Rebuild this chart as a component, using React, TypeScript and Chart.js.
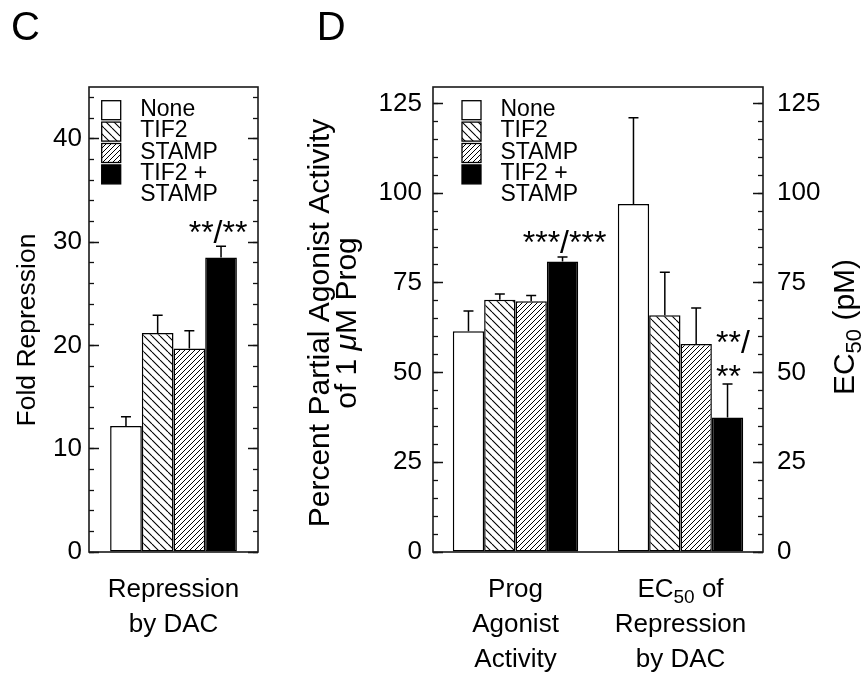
import React, { useEffect, useRef } from "react";
import { Chart, registerables } from "chart.js";

Chart.register(...registerables);

const FONT = "'Liberation Sans', Arial, Helvetica, sans-serif";

// ---------------- data ----------------
const seriesLabels = ["None", "TIF2", "STAMP", "TIF2 + STAMP"];
const legendLines = [["None"], ["TIF2"], ["STAMP"], ["TIF2 +", "STAMP"]];

// Panel C
const categoriesC = [["Repression", "by DAC"]];
const foldRepression = [12.2, 21.2, 19.7, 28.5];
const foldRepressionErr = [0.9, 1.7, 1.7, 1.1];
const ticksC = [0, 10, 20, 30, 40];
const sigC = ["**/**"];

// Panel D
const categoriesD = [
  ["Prog", "Agonist", "Activity"],
  ["EC_{50} of", "Repression", "by DAC"],
];
const progAgonist = [61.5, 70.3, 69.9, 81.0];
const progAgonistErr = [5.7, 1.6, 1.6, 1.2];
const ec50 = [97, 66, 58, 37.5];
const ec50Err = [24, 12, 10, 9.3];
const ticksD = [0, 25, 50, 75, 100, 125];
const sigDProg = ["***/***"];
const sigDEC50 = ["**/", "**"];

const titleC = ["Fold Repression"];
const titleDLeft = ["Percent Partial Agonist Activity", "of 1 ~{μ}M Prog"];
const titleDRight = ["EC_{50} (pM)"];

// ---------------- helpers ----------------
type Seg = { t: string; k: "n" | "s" | "i" };
function segs(text: string): Seg[] {
  const out: Seg[] = [];
  const re = /(_\{[^}]*\}|~\{[^}]*\})/g;
  let last = 0;
  let m: RegExpExecArray | null;
  while ((m = re.exec(text))) {
    if (m.index > last) out.push({ t: text.slice(last, m.index), k: "n" });
    out.push({ t: m[0].slice(2, -1), k: m[0][0] === "_" ? "s" : "i" });
    last = m.index + m[0].length;
  }
  if (last < text.length) out.push({ t: text.slice(last), k: "n" });
  return out;
}
function fontFor(k: string, size: number) {
  if (k === "s") return `${Math.round(size * 0.72)}px ${FONT}`;
  if (k === "i") return `italic ${size}px ${FONT}`;
  return `${size}px ${FONT}`;
}
function drawRich(ctx: CanvasRenderingContext2D, text: string, x: number, y: number, size: number, align: string) {
  const parts = segs(text);
  let w = 0;
  const ws = parts.map((p) => {
    ctx.font = fontFor(p.k, size);
    const mw = ctx.measureText(p.t).width;
    w += mw;
    return mw;
  });
  let cx = align === "center" ? x - w / 2 : align === "right" ? x - w : x;
  ctx.textAlign = "left";
  ctx.textBaseline = "middle";
  ctx.fillStyle = "#000";
  parts.forEach((p, i) => {
    ctx.font = fontFor(p.k, size);
    ctx.fillText(p.t, cx, p.k === "s" ? y + size * 0.3 : y);
    cx += ws[i];
  });
}

function hatch(ctx: CanvasRenderingContext2D, dir: "back" | "fwd", s: number, lw: number) {
  const c = document.createElement("canvas");
  c.width = s;
  c.height = s;
  const g = c.getContext("2d")!;
  g.fillStyle = "#fff";
  g.fillRect(0, 0, s, s);
  g.strokeStyle = "#000";
  g.lineWidth = lw;
  g.beginPath();
  for (const k of [-s, 0, s]) {
    if (dir === "back") {
      g.moveTo(k, 0);
      g.lineTo(k + s, s);
    } else {
      g.moveTo(k, s);
      g.lineTo(k + s, 0);
    }
  }
  g.stroke();
  return ctx.createPattern(c, "repeat")!;
}

type Annot = { series: number; cat: number; lines: string[]; align: string; dx: number; dy: number };
type Title = { lines: string[]; x: number; y: number; step: number; size: number };

type Panel = {
  letter: string;
  letterX: number;
  width: number;
  area: { left: number; right: number; top: number; bottom: number };
  yMax: number;
  majorTicks: number[];
  minor: number;
  rightLabels: boolean;
  rightWidth: number;
  leftTickPad: number;
  rightTickPad: number;
  catPct: number;
  legendDx: number;
  categories: string[][];
  groups: number[][];
  errGroups: number[][];
  annots: Annot[];
  titles: Title[];
};

const panelC: Panel = {
  letter: "C",
  letterX: 11,
  width: 300,
  area: { left: 89, right: 258, top: 87, bottom: 552 },
  yMax: 45,
  majorTicks: ticksC,
  minor: 2,
  rightLabels: false,
  rightWidth: 0,
  leftTickPad: 17,
  rightTickPad: 0,
  catPct: 0.75,
  legendDx: 12.7,
  categories: categoriesC,
  groups: [foldRepression],
  errGroups: [foldRepressionErr],
  annots: [{ series: 3, cat: 0, lines: sigC, align: "center", dx: -3, dy: -3.5 }],
  titles: [{ lines: titleC, x: 28, y: 330, step: 0, size: 26.5 }],
};

const panelD: Panel = {
  letter: "D",
  letterX: 16.7,
  width: 565,
  area: { left: 133, right: 463, top: 87, bottom: 552 },
  yMax: 129.6,
  majorTicks: ticksD,
  minor: 5,
  rightLabels: true,
  rightWidth: 60,
  leftTickPad: 21,
  rightTickPad: 24,
  catPct: 0.76,
  legendDx: 29,
  categories: categoriesD,
  groups: [progAgonist, ec50],
  errGroups: [progAgonistErr, ec50Err],
  annots: [
    { series: 3, cat: 0, lines: sigDProg, align: "center", dx: 2, dy: -4 },
    { series: 3, cat: 1, lines: sigDEC50, align: "left", dx: -11.5, dy: 3 },
  ],
  titles: [
    { lines: titleDLeft, x: 21, y: 323, step: 27, size: 30 },
    { lines: titleDRight, x: 546, y: 327, step: 0, size: 30 },
  ],
};

function buildPanel(canvas: HTMLCanvasElement, p: Panel) {
  const ctx = canvas.getContext("2d")!;
  const fills: any[] = ["#ffffff", hatch(ctx, "back", 8, 1.1), hatch(ctx, "fwd", 5, 1), "#000000"];
  const H = canvas.height;

  const datasets = seriesLabels.map((label, i) => ({
    label,
    data: p.groups.map((g) => g[i]),
    errors: p.errGroups.map((g) => g[i]),
    backgroundColor: fills[i],
    borderColor: "#000",
    borderWidth: 1.5,
    borderSkipped: false as any,
    categoryPercentage: p.catPct,
    barPercentage: 1,
  }));

  const minorValues: number[] = [];
  for (let v = 0; v <= p.yMax + 1e-9; v += p.minor) minorValues.push(v);

  const majorAxis = (position: "left" | "right", showLabels: boolean, pad: number, width: number) => ({
    type: "linear" as const,
    position,
    min: 0,
    max: p.yMax,
    weight: 1,
    ticks: {
      display: showLabels,
      padding: pad,
      color: "#000",
      font: { family: FONT, size: 26 },
    },
    afterBuildTicks: (s: any) => {
      s.ticks = p.majorTicks.map((v) => ({ value: v }));
    },
    grid: { display: true, drawOnChartArea: false, drawTicks: true, tickLength: -10, tickColor: "#111", tickWidth: 1.5 },
    border: { display: false },
    afterFit: (s: any) => {
      s.width = width;
    },
  });
  const minorAxis = (position: "left" | "right") => ({
    type: "linear" as const,
    position,
    min: 0,
    max: p.yMax,
    weight: 0,
    ticks: { display: false },
    afterBuildTicks: (s: any) => {
      s.ticks = minorValues.map((v) => ({ value: v }));
    },
    grid: { display: true, drawOnChartArea: false, drawTicks: true, tickLength: -5, tickColor: "#111", tickWidth: 1.3 },
    border: { display: false },
    afterFit: (s: any) => {
      s.width = 0;
    },
  });

  const deco = {
    id: "deco",
    afterDatasetsDraw(chart: any) {
      const c = chart.ctx as CanvasRenderingContext2D;
      const y = chart.scales.y;
      c.save();
      c.strokeStyle = "#000";
      c.lineWidth = 1.5;
      chart.data.datasets.forEach((ds: any, di: number) => {
        const meta = chart.getDatasetMeta(di);
        meta.data.forEach((bar: any, i: number) => {
          const v = ds.data[i];
          const e = ds.errors[i];
          const y0 = y.getPixelForValue(v);
          const y1 = y.getPixelForValue(v + e);
          c.beginPath();
          c.moveTo(bar.x, y0);
          c.lineTo(bar.x, y1);
          c.moveTo(bar.x - 5, y1);
          c.lineTo(bar.x + 5, y1);
          c.stroke();
        });
      });
      c.restore();
    },
    afterDraw(chart: any) {
      const c = chart.ctx as CanvasRenderingContext2D;
      const a = chart.chartArea;
      const x = chart.scales.x;
      const y = chart.scales.y;
      c.save();
      // frame
      c.strokeStyle = "#1a1a1a";
      c.lineWidth = 1.6;
      c.strokeRect(a.left, a.top, a.right - a.left, a.bottom - a.top);

      // legend
      const lx = a.left + p.legendDx;
      const ly0 = a.top + 13.7;
      legendLines.forEach((lines, i) => {
        const by = ly0 + i * 21.4;
        c.fillStyle = chart.data.datasets[i].backgroundColor;
        c.fillRect(lx, by, 19, 19);
        c.lineWidth = 1.3;
        c.strokeStyle = "#000";
        c.strokeRect(lx, by, 19, 19);
        lines.forEach((ln, j) => {
          c.fillStyle = "#000";
          c.font = `23px ${FONT}`;
          c.textAlign = "left";
          c.textBaseline = "middle";
          c.fillText(ln, lx + 38.5, by + 9 + j * 20.7);
        });
      });

      // category labels
      p.categories.forEach((lines, i) => {
        const cx = x.getPixelForTick(i);
        lines.forEach((ln, j) => drawRich(c, ln, cx, 590 + j * 35, 26, "center"));
      });

      // significance marks
      p.annots.forEach((an) => {
        const ds: any = chart.data.datasets[an.series];
        const bar = chart.getDatasetMeta(an.series).data[an.cat];
        const top = y.getPixelForValue(ds.data[an.cat] + ds.errors[an.cat]);
        const base = top + an.dy;
        c.fillStyle = "#000";
        c.font = `32px ${FONT}`;
        c.textAlign = an.align as CanvasTextAlign;
        c.textBaseline = "alphabetic";
        const n = an.lines.length;
        an.lines.forEach((ln, j) => {
          c.fillText(ln, bar.x + an.dx, base - (n - 1 - j) * 34);
        });
      });

      // axis titles (rotated)
      p.titles.forEach((t) => {
        t.lines.forEach((ln, j) => {
          c.save();
          c.translate(t.x + j * t.step, t.y);
          c.rotate(-Math.PI / 2);
          drawRich(c, ln, 0, 0, t.size, "center");
          c.restore();
        });
      });

      // panel letter
      c.fillStyle = "#000";
      c.font = `40px ${FONT}`;
      c.textAlign = "left";
      c.textBaseline = "middle";
      c.fillText(p.letter, p.letterX, 29);
      c.restore();
    },
  };

  return new Chart(ctx, {
    type: "bar",
    data: { labels: p.categories.map((l) => l.join(" ")), datasets: datasets as any },
    options: {
      animation: false,
      responsive: false,
      maintainAspectRatio: false,
      devicePixelRatio: 1,
      layout: { padding: { left: 0, right: p.width - p.area.right - p.rightWidth, top: p.area.top, bottom: 0 } },
      plugins: { legend: { display: false }, tooltip: { enabled: false } },
      scales: {
        x: {
          type: "category",
          position: "bottom",
          offset: true,
          grid: { display: false, drawTicks: false },
          border: { display: false },
          ticks: { display: false },
          afterFit: (s: any) => {
            s.height = H - p.area.bottom;
          },
        },
        y: majorAxis("left", true, p.leftTickPad, p.area.left) as any,
        yR: majorAxis("right", p.rightLabels, p.rightTickPad, p.rightWidth) as any,
        yMinL: minorAxis("left") as any,
        yMinR: minorAxis("right") as any,
      },
    },
    plugins: [deco],
  });
}

export default function App() {
  const cRef = useRef<HTMLCanvasElement>(null);
  const dRef = useRef<HTMLCanvasElement>(null);
  useEffect(() => {
    const a = buildPanel(cRef.current!, panelC);
    const b = buildPanel(dRef.current!, panelD);
    return () => {
      a.destroy();
      b.destroy();
    };
  }, []);
  return (
    <div style={{ position: "absolute", left: 0, top: 0, width: 865, height: 673, background: "#fff" }}>
      <canvas ref={cRef} width={300} height={673} style={{ position: "absolute", left: 0, top: 0 }} />
      <canvas ref={dRef} width={565} height={673} style={{ position: "absolute", left: 300, top: 0 }} />
    </div>
  );
}
